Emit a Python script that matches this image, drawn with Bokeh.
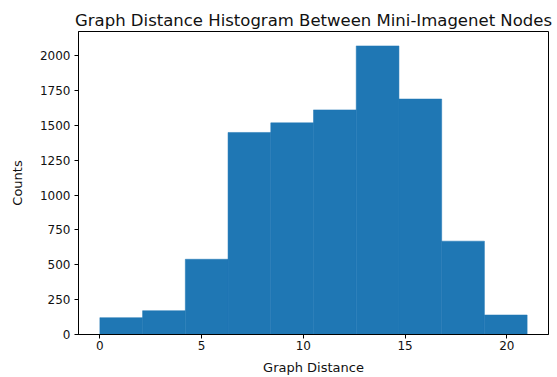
from bokeh.plotting import figure
from bokeh.models import Range1d, FixedTicker
from bokeh.embed import file_html
from bokeh.resources import INLINE

# Data
bin_edges = [0.0, 2.1, 4.2, 6.3, 8.4, 10.5, 12.6, 14.7, 16.8, 18.9, 21.0]
counts = [121, 171, 540, 1450, 1519, 1612, 2071, 1690, 670, 140]
x_ticks = [0, 5, 10, 15, 20]
y_ticks = [0, 250, 500, 750, 1000, 1250, 1500, 1750, 2000]

FONT = "DejaVu Sans"

ymax = max(counts) * 1.05
span = bin_edges[-1] - bin_edges[0]

p = figure(width=557, height=377, output_backend="svg", toolbar_location=None,
           x_range=Range1d(bin_edges[0] - 0.05 * span, bin_edges[-1] + 0.05 * span),
           y_range=Range1d(0, ymax),
           title="Graph Distance Histogram Between Mini-Imagenet Nodes",
           min_border_left=78, min_border_right=9, min_border_top=31, min_border_bottom=42)

p.quad(left=bin_edges[:-1], right=bin_edges[1:], bottom=0, top=counts,
       fill_color="#1f77b4", line_color="#1f77b4", line_width=0.5)

p.title.text_font = FONT
p.title.text_font_size = "16.5px"
p.title.text_font_style = "normal"
p.title.text_color = "#111111"
p.title.align = "center"
p.title.offset = 0
p.title.standoff = 4

p.xgrid.visible = False
p.ygrid.visible = False
p.outline_line_color = "black"
p.outline_line_alpha = 1
p.outline_line_width = 1

for ax in (p.xaxis[0], p.yaxis[0]):
    ax.axis_line_color = "black"
    ax.major_tick_line_color = "black"
    ax.minor_tick_line_color = None
    ax.major_tick_out = 4
    ax.major_tick_in = 0
    ax.major_label_text_font = FONT
    ax.major_label_text_font_size = "12px"
    ax.major_label_text_color = "#111111"
    ax.axis_label_text_font = FONT
    ax.axis_label_text_font_size = "13px"
    ax.axis_label_text_font_style = "normal"
    ax.axis_label_text_color = "#111111"

p.xaxis[0].ticker = FixedTicker(ticks=x_ticks)
p.yaxis[0].ticker = FixedTicker(ticks=y_ticks)
p.xaxis[0].axis_label = "Graph Distance"
p.yaxis[0].axis_label = "Counts"
p.xaxis[0].major_label_standoff = 2
p.xaxis[0].axis_label_standoff = 7
p.yaxis[0].major_label_standoff = 4
p.yaxis[0].axis_label_standoff = 12

open("out.html", "w").write(file_html(p, INLINE))
